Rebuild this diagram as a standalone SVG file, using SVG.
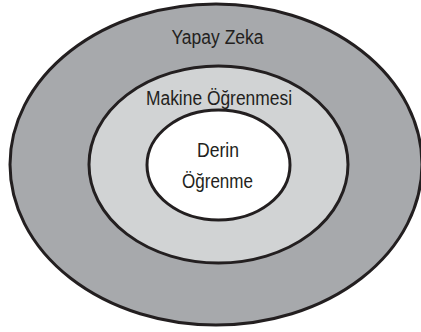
<svg xmlns="http://www.w3.org/2000/svg" width="421" height="332" viewBox="0 0 421 332">
<style>
.ring{stroke:#231f20;stroke-width:3}
.lbl{font-family:"Liberation Sans",Arial,sans-serif;font-size:20px;fill:#231f20;text-anchor:middle}
</style>
<rect width="421" height="332" fill="#ffffff"/>
<g id="yapay-zeka">
<ellipse class="ring" cx="216" cy="164.5" rx="206" ry="160.5" fill="#a7a9ac"/>
<text class="lbl" x="217.5" y="44" textLength="92" lengthAdjust="spacingAndGlyphs">Yapay Zeka</text>
</g>
<g id="makine-ogrenmesi">
<ellipse class="ring" cx="218.5" cy="164.5" rx="129.5" ry="98.5" fill="#d1d3d4"/>
<text class="lbl" x="219" y="105" textLength="146" lengthAdjust="spacingAndGlyphs">Makine Öğrenmesi</text>
</g>
<g id="derin-ogrenme">
<ellipse class="ring" cx="218.5" cy="165" rx="71.5" ry="55" fill="#ffffff"/>
<text class="lbl" x="218" y="157" textLength="42" lengthAdjust="spacingAndGlyphs">Derin</text>
<text class="lbl" x="217.5" y="188" textLength="71" lengthAdjust="spacingAndGlyphs">Öğrenme</text>
</g>
<g id="connectors"/>
</svg>
